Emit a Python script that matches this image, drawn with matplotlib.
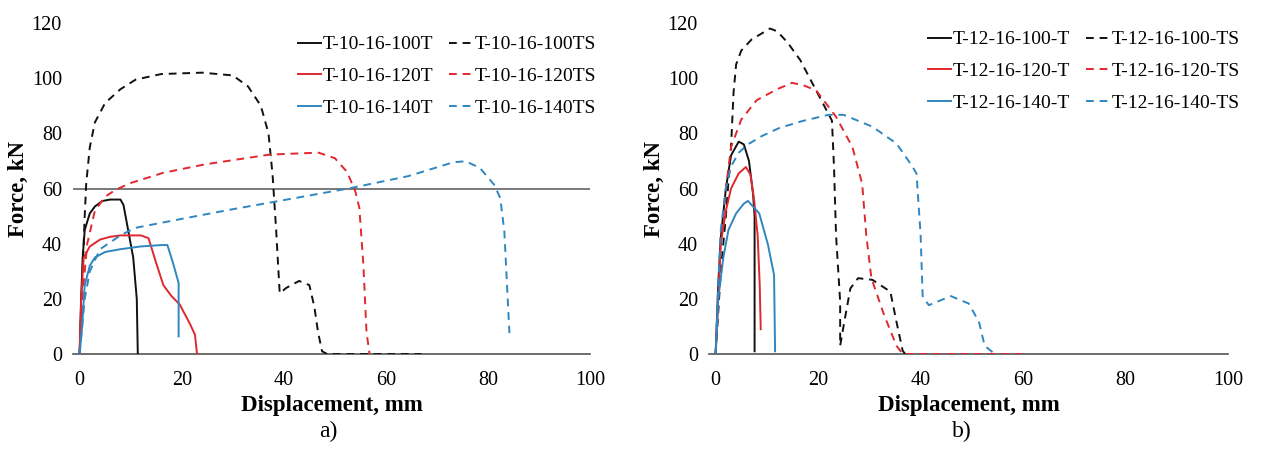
import matplotlib
matplotlib.use("Agg")
import matplotlib.pyplot as plt

plt.rcParams['font.family'] = ['Liberation Serif', 'DejaVu Serif']

# ---------------- Panel a) data ----------------
a_labels = ["T-10-16-100T", "T-10-16-100TS", "T-10-16-120T", "T-10-16-120TS",
            "T-10-16-140T", "T-10-16-140TS"]

a_100T_x = [0, 0.3, 0.6, 1, 2, 3, 4.5, 6, 8, 8.6, 9.5, 10.5, 11.2, 11.4]
a_100T_y = [0, 20, 35, 45, 51, 53.5, 55.5, 56, 56, 54, 45, 35, 20, 0]

a_100TS_x = [0, 0.5, 1, 1.3, 2, 3, 5, 8, 11, 16, 24, 30, 33, 35.5, 37, 37.8, 38.5, 39.2,
             40.5, 43, 45, 46, 46.7, 47.5, 48.5, 67]
a_100TS_y = [0, 25, 50, 62, 75, 84, 91, 96, 99.5, 101.5, 102, 101, 97, 90, 80, 65, 45, 22,
             24, 26.5, 25, 17, 8, 1, 0, 0]

a_120T_x = [0, 0.3, 0.8, 2, 4, 6, 8, 12, 13.5, 15, 16.4, 18, 19.6, 21.6, 22.6, 23]
a_120T_y = [0, 20, 35, 39, 41.5, 42.5, 43, 43, 42, 33, 25, 21, 18, 11, 7, 0]

a_120TS_x = [0, 0.5, 1.5, 3, 5, 7, 10, 16.4, 24.4, 37.2, 46.8, 50, 52.4, 54, 54.8, 55.6,
             56.2, 56.8]
a_120TS_y = [0, 20, 40, 52, 57, 59.5, 62, 65.7, 68.7, 72.3, 73, 71, 66, 59, 53, 32, 8, 0]

a_140T_x = [0, 0.5, 1, 2, 3, 5, 8, 12, 16, 17.2, 18.3, 19.4, 19.4]
a_140T_y = [0, 10, 25, 32, 35, 37, 38, 39, 39.5, 39.5, 33, 25.7, 6.4]

a_140TS_x = [0, 1, 2, 4, 8, 10.8, 20, 30, 38.8, 46, 53.2, 64.4, 73.2, 75.6, 78.4, 81.2,
             82.4, 83.2, 84.2]
a_140TS_y = [0, 20, 30, 38, 43, 45.7, 49, 52.5, 55.4, 57.8, 60.2, 64.5, 69.5, 69.9, 67.5,
             61.4, 56.6, 44.5, 7.6]

# ---------------- Panel b) data ----------------
b_labels = ["T-12-16-100-T", "T-12-16-100-TS", "T-12-16-120-T", "T-12-16-120-TS",
            "T-12-16-140-T", "T-12-16-140-TS"]

b_100T_x = [0, 0.5, 1, 2, 3, 4.5, 5.5, 6.5, 7.3, 7.6, 7.6]
b_100T_y = [0, 25, 42, 60, 72, 77, 76, 70, 58, 50, 1]

b_100TS_x = [0, 1, 2, 3, 3.5, 4, 5, 7, 10.6, 12, 14, 16.5, 19.6, 22.7, 23.1, 23.5, 24.3,
             24.3, 25.1, 26.3, 27.8, 30.6, 34.1, 35.3, 36.5, 37, 38]
b_100TS_y = [0, 30, 50, 75, 95, 105, 110, 114, 118, 117, 113, 106.6, 95.6, 84.6, 67.8, 43,
             19, 3, 11.6, 23.8, 27.5, 26.9, 22.6, 11.6, 1.2, 0, 0]

b_120T_x = [0, 1, 2, 3, 4.5, 5.9, 6.8, 7.5, 8.2, 8.6, 8.8]
b_120T_y = [0, 40, 52, 60, 65.5, 67.8, 65, 56, 43, 25, 9]

b_120TS_x = [0, 1, 2, 3, 5, 8, 12, 14.9, 17, 19.6, 23.5, 26.7, 28.6, 29.4, 30.4, 32.9,
             35.3, 36.5, 60.4]
b_120TS_y = [0, 40, 60, 75, 85, 92, 96, 98.3, 97.5, 95.6, 86, 75, 61.7, 43, 27.5, 14, 3,
             0, 0]

b_140T_x = [0, 0.5, 1.5, 2.5, 4, 5.5, 6.3, 8.5, 10.2, 11.4, 11.6]
b_140T_y = [0, 20, 35, 45, 51, 54.5, 55.5, 51, 39.7, 28.7, 1]

b_140TS_x = [0, 0.5, 1, 2, 3, 4.5, 6.3, 9, 12.5, 17, 22, 25, 30.6, 35.3, 38.4, 39.2, 40,
             40.4, 41.6, 45.9, 49.4, 51.4, 52.5, 54.1]
b_140TS_y = [0, 25, 45, 60, 68, 73, 76, 79, 82, 84.5, 86.7, 86.7, 82.4, 76.3, 68, 65.4,
             43.3, 21, 17.7, 21, 18.3, 11.6, 3, 0.6]

x_ticks = [0, 20, 40, 60, 80, 100]
y_ticks = [0, 20, 40, 60, 80, 100, 120]

BLACK = "#111111"
RED = "#e0282e"
BLUE = "#2f86c0"

fig = plt.figure(figsize=(12.69, 4.51), dpi=100)
axA = fig.add_axes([0.0575, 0.215, 0.4075, 0.734])
axB = fig.add_axes([0.5587, 0.215, 0.409, 0.734])

def draw(ax, series, labels):
    (x1, y1), (x1s, y1s), (x2, y2), (x2s, y2s), (x3, y3), (x3s, y3s) = series
    lw = 1.4
    ax.plot(x1, y1, color=BLACK, lw=lw, label=labels[0])
    ax.plot(x1s, y1s, color=BLACK, lw=lw, dashes=(4, 3), label=labels[1])
    ax.plot(x2, y2, color=RED, lw=lw, label=labels[2])
    ax.plot(x2s, y2s, color=RED, lw=lw, dashes=(4, 3), label=labels[3])
    ax.plot(x3, y3, color=BLUE, lw=lw, label=labels[4])
    ax.plot(x3s, y3s, color=BLUE, lw=lw, dashes=(4, 3), label=labels[5])
    ax.set_xlim(-1.3, 100)
    ax.set_ylim(0, 120)
    ax.set_xticks(x_ticks)
    ax.set_yticks(y_ticks)
    for s in ["top", "right", "left"]:
        ax.spines[s].set_visible(False)
    ax.spines["bottom"].set_color("#555555")
    ax.spines["bottom"].set_linewidth(1.2)
    ax.spines["bottom"].set_zorder(0)
    ax.tick_params(length=0, labelsize=14.5)
    ax.tick_params(axis="x", pad=12)
    ax.tick_params(axis="y", pad=8)
    ax.set_xlabel("Displacement, mm", fontsize=16.5, fontweight="bold", labelpad=4)
    ax.set_ylabel("Force, kN", fontsize=16.5, fontweight="bold", labelpad=2)
    h, l = ax.get_legend_handles_labels()
    order = [0, 2, 4, 1, 3, 5]
    return [h[i] for i in order], [l[i] for i in order]

hA, lA = draw(axA, [(a_100T_x, a_100T_y), (a_100TS_x, a_100TS_y), (a_120T_x, a_120T_y),
                    (a_120TS_x, a_120TS_y), (a_140T_x, a_140T_y), (a_140TS_x, a_140TS_y)],
              a_labels)
axA.axhline(60, color="#555555", lw=1.1, zorder=0)
hB, lB = draw(axB, [(b_100T_x, b_100T_y), (b_100TS_x, b_100TS_y), (b_120T_x, b_120T_y),
                    (b_120TS_x, b_120TS_y), (b_140T_x, b_140T_y), (b_140TS_x, b_140TS_y)],
              b_labels)

legkw = dict(ncol=2, frameon=False, fontsize=14, handlelength=1.2, handletextpad=0.1,
             columnspacing=0.8, labelspacing=0.72, borderpad=0, loc="upper left")
axA.legend(hA, lA, bbox_to_anchor=(288 / 1269, 1 - 26 / 451), bbox_transform=fig.transFigure, **legkw)
axB.legend(hB, lB, bbox_to_anchor=(918 / 1269, 1 - 21 / 451), bbox_transform=fig.transFigure, **legkw)

fig.text(328 / 1269, 1 - 431 / 451, "a)", fontsize=17, ha="center", va="center")
fig.text(962 / 1269, 1 - 431 / 451, "b)", fontsize=17, ha="center", va="center")

fig.savefig("out.png", dpi=100, facecolor="white")
